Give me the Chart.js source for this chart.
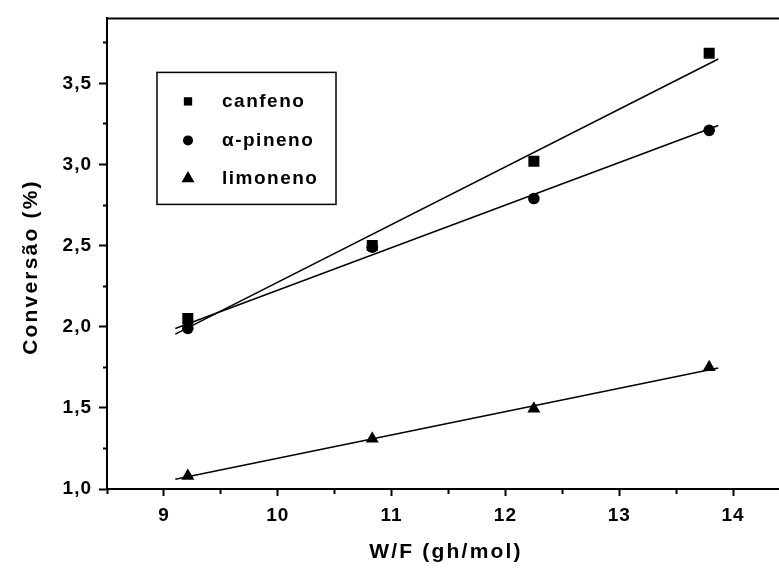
<!DOCTYPE html>
<html>
<head>
<meta charset="utf-8">
<script src="https://cdn.jsdelivr.net/npm/chart.js@4/dist/chart.umd.min.js"></script>
<style>
  html, body { margin: 0; padding: 0; background: #fff; overflow: hidden; }
</style>
</head>
<body>
<canvas id="convChart" width="800" height="572"></canvas>
<script>
// W/F (gh/mol) of each run
const wfValues = [9.21, 10.83, 12.25, 13.79];

// conversion (%) for each terpene
const canfeno = [2.05, 2.50, 3.02, 3.685];
const pineno = [1.99, 2.49, 2.79, 3.21];
const limoneno = [1.08, 1.31, 1.495, 1.75];

// end points of the fitted straight lines
const fitX = [9.1, 13.87];
const canfenoFit = [1.954, 3.65];
const pinenoFit = [1.989, 3.24];
const limonenoFit = [1.06, 1.745];

const seriesNames = ['canfeno', 'α-pineno', 'limoneno'];
const xTickLabels = [9, 10, 11, 12, 13, 14];
const yTickLabels = [1.0, 1.5, 2.0, 2.5, 3.0, 3.5];

const FONT = '"Liberation Sans", Arial, sans-serif';

function toPoints(xs, ys) {
    return xs.map((x, i) => ({ x: x, y: ys[i] }));
}

function isLabelled(list, v) {
    return list.some(t => Math.abs(t - v) < 1e-6);
}

// legend box inside the plot, axis titles and the top frame line
const boxLegend = {
    id: 'boxLegend',
    beforeDraw(chart) {
        chart.ctx.letterSpacing = '1px';      // tick labels are a bit spread out
    },
    afterDraw(chart) {
        const ctx = chart.ctx;
        const area = chart.chartArea;
        ctx.save();

        // top frame line
        ctx.strokeStyle = '#000';
        ctx.lineWidth = 2;
        ctx.beginPath();
        ctx.moveTo(area.left, area.top);
        ctx.lineTo(chart.width, area.top);
        ctx.stroke();

        // legend frame
        const left = area.left + 50;
        const top = area.top + 54;
        ctx.lineWidth = 1.5;
        ctx.strokeRect(left, top, 179, 132);

        const rowY = [29, 68, 106];
        const styles = [
            { pointStyle: 'rect', radius: 5.9 },
            { pointStyle: 'circle', radius: 5 },
            { pointStyle: 'triangle', radius: 7.5 }
        ];
        ctx.fillStyle = '#000';
        ctx.font = 'bold 19px ' + FONT;
        ctx.letterSpacing = '1.5px';
        ctx.textAlign = 'left';
        ctx.textBaseline = 'middle';
        seriesNames.forEach((name, i) => {
            const y = top + rowY[i];
            ctx.fillStyle = '#000';
            Chart.helpers.drawPoint(ctx, { pointStyle: styles[i].pointStyle, radius: styles[i].radius, rotation: 0, borderWidth: 0 }, left + 31, y);
            ctx.fillText(name, left + 65, y);
        });

        // axis titles
        ctx.font = 'bold 21px ' + FONT;
        ctx.letterSpacing = '2.2px';
        ctx.textAlign = 'center';
        ctx.textBaseline = 'alphabetic';
        ctx.fillText('W/F (gh/mol)', 446, 558);

        ctx.translate(37, 267);
        ctx.rotate(-Math.PI / 2);
        ctx.fillText('Conversão (%)', 0, 0);

        ctx.restore();
        ctx.letterSpacing = '0px';
    }
};

const timeChart = document.getElementById('convChart');

const myChart = new Chart(timeChart, {
    type: 'scatter',
    data: {
        datasets: [{
            label: seriesNames[1],
            data: toPoints(wfValues, pineno),
            pointStyle: 'circle',
            pointRadius: 5.8,
            backgroundColor: '#000',
            borderWidth: 0,
            order: 1
        }, {
            label: seriesNames[0],
            data: toPoints(wfValues, canfeno),
            pointStyle: 'rect',
            pointRadius: 7.8,
            backgroundColor: '#000',
            borderWidth: 0,
            order: 2
        }, {
            label: seriesNames[2],
            data: toPoints(wfValues, limoneno),
            pointStyle: 'triangle',
            pointRadius: 7.5,
            backgroundColor: '#000',
            borderWidth: 0,
            order: 3
        }, {
            label: 'fit canfeno',
            data: toPoints(fitX, canfenoFit),
            showLine: true,
            pointRadius: 0,
            borderColor: '#000',
            borderWidth: 1.5,
            order: 4
        }, {
            label: 'fit pineno',
            data: toPoints(fitX, pinenoFit),
            showLine: true,
            pointRadius: 0,
            borderColor: '#000',
            borderWidth: 1.5,
            order: 5
        }, {
            label: 'fit limoneno',
            data: toPoints(fitX, limonenoFit),
            showLine: true,
            pointRadius: 0,
            borderColor: '#000',
            borderWidth: 1.5,
            order: 6
        }]
    },
    options: {
        responsive: false,
        animation: false,
        layout: {
            padding: { left: 0, top: 15, right: 10, bottom: 0 }
        },
        scales: {
            x: {
                type: 'linear',
                min: 8.5,
                max: 14.5,
                afterFit: s => { s.height = 83; },
                ticks: {
                    stepSize: 0.5,
                    autoSkip: false,
                    maxRotation: 0,
                    padding: 8,
                    color: '#000',
                    font: { family: FONT, size: 19, weight: 'bold' },
                    callback: v => isLabelled(xTickLabels, v) ? String(v) : ''
                },
                grid: {
                    drawOnChartArea: false,
                    tickLength: 7,
                    tickWidth: 2,
                    tickColor: '#000',
                    tickBorderDash: c => isLabelled(xTickLabels, c.tick.value) ? [] : [4, 20]
                },
                border: { color: '#000', width: 2 }
            },
            y: {
                min: 1,
                max: 3.9,
                afterFit: s => { s.width = 107; },
                afterBuildTicks: s => {
                    s.ticks = s.ticks.filter(t => Math.abs(t.value * 4 - Math.round(t.value * 4)) < 1e-6);
                },
                ticks: {
                    stepSize: 0.25,
                    autoSkip: false,
                    padding: 7,
                    color: '#000',
                    font: { family: FONT, size: 19, weight: 'bold' },
                    callback: v => isLabelled(yTickLabels, v) ? v.toFixed(1).replace('.', ',') : ''
                },
                grid: {
                    drawOnChartArea: false,
                    tickLength: 8,
                    tickWidth: 2,
                    tickColor: '#000',
                    tickBorderDash: c => isLabelled(yTickLabels, c.tick.value) ? [] : [0, 4, 4, 20]
                },
                border: { color: '#000', width: 2 }
            }
        },
        plugins: {
            legend: { display: false },
            tooltip: { enabled: false }
        }
    },
    plugins: [boxLegend]
});
</script>
</body>
</html>
